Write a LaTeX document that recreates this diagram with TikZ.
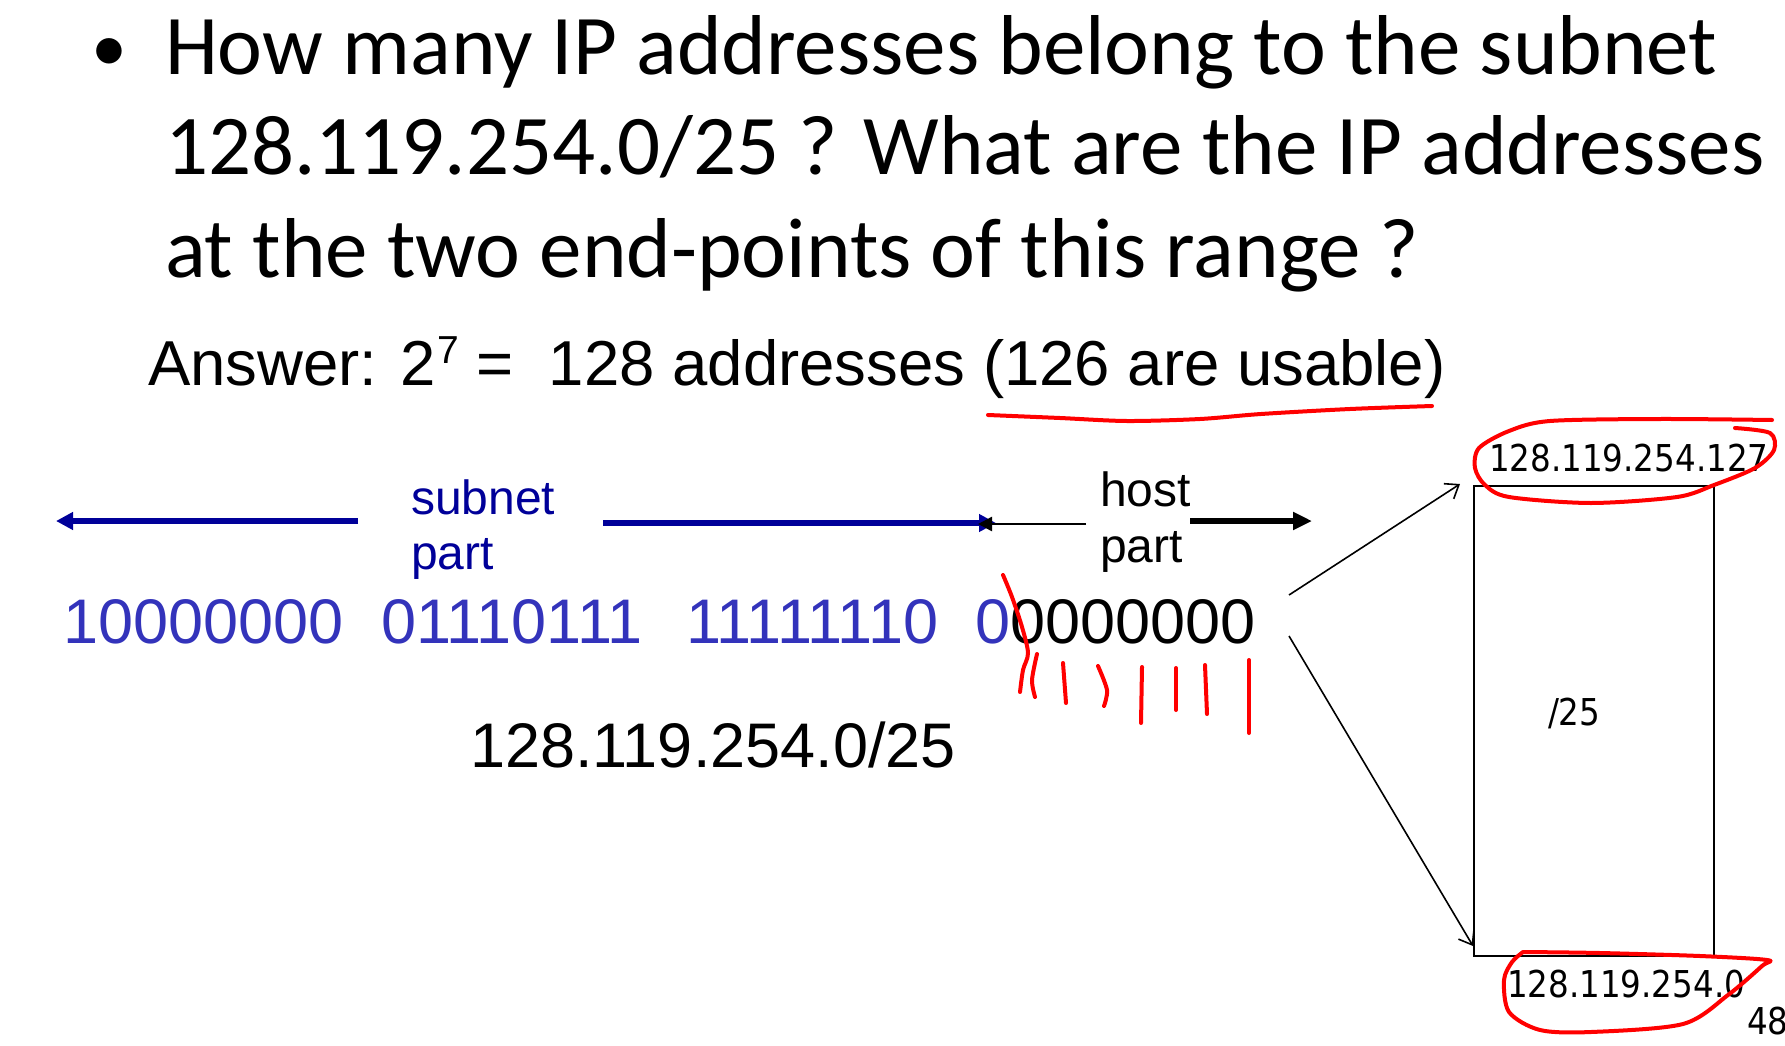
\documentclass[tikz,border=0pt]{standalone}
\usepackage{fontspec}
\setmainfont{Liberation Sans}
\newfontfamily\calibri{Carlito}
\newfontfamily\verd[FakeStretch=0.88]{DejaVu Sans}
\usetikzlibrary{arrows.meta}
\definecolor{navy}{RGB}{0,0,153}
\definecolor{digblue}{RGB}{51,51,187}
\definecolor{inkred}{RGB}{255,0,0}
\begin{document}
\begin{tikzpicture}[x=1pt,y=-1pt,inner sep=0pt,outer sep=0pt,
  titletext/.style={anchor=base west,font=\calibri\fontsize{85}{100}\selectfont},
  anstext/.style={anchor=base west,font=\fontsize{63.5}{76}\selectfont},
  bintext/.style={anchor=base west,font=\fontsize{63}{75}\selectfont},
  parttext/.style={anchor=base west,font=\fontsize{48}{56}\selectfont},
  iptext/.style={anchor=base west,font=\verd\fontsize{37}{42}\selectfont},
  bluearrow/.style={draw=navy,line width=5.5pt,-{Triangle[length=17pt,width=17pt]}},
  blackarrow/.style={draw=black,line width=5.5pt,-{Triangle[length=19pt,width=17pt]}},
  thinarrow/.style={draw=black,line width=2.4pt,-{Triangle[length=14pt,width=14pt]}},
  pointer/.style={draw=black,line width=1.6pt,-{Straight Barb[length=12pt,width=18pt]}},
  ink/.style={draw=inkred,line width=4pt,line cap=round,line join=round}]
\useasboundingbox (0,0) rectangle (1785,1046);
\fill[white] (0,0) rectangle (1785,1046);

% title
\node[titletext,font=\calibri\fontsize{72}{80}\selectfont] (bullet) at (91,72) {•};
\node[titletext] (t1) at (165,75) {How many IP addresses belong to the subnet};
\node[titletext] (t2) at (165,175) {128.119.254.0/25 ? What are the IP addresses};
\node[titletext] (t3) at (165,277) {at the two end-points of this range ?};

% answer
\node[anstext] (ans) at (148,385) {Answer: 2\hspace{1pt}\raisebox{22pt}{\fontsize{39}{40}\selectfont 7} =\ \ 128 addresses (126 are usable)};
\draw[ink] plot[smooth] coordinates {(988,415) (1060,418) (1127,421) (1200,419) (1261,414) (1350,409) (1432,406)};

% subnet / host part
\node[parttext,text=navy] (subnet) at (411,514) {subnet};
\node[parttext,text=navy] (spart) at (411,569) {part};
\node[parttext] (host) at (1100,506) {host};
\node[parttext] (hpart) at (1100,562) {part};

\coordinate (sl0) at (358,521);
\coordinate (sl1) at (56,521);
\coordinate (sr0) at (603,523);
\coordinate (sr1) at (996,523);
\coordinate (hl0) at (1086,524);
\coordinate (hl1) at (978,524);
\coordinate (hr0) at (1190,521);
\coordinate (hr1) at (1312,521);
\draw[bluearrow] (sl0) -- (sl1);
\draw[bluearrow] (sr0) -- (sr1);
\draw[thinarrow] (hl0) -- (hl1);
\draw[blackarrow] (hr0) -- (hr1);

% binary
\node[bintext,text=digblue] (b1) at (63,643) {10000000};
\node[bintext,text=digblue] (b2) at (381,643) {01110111};
\node[bintext,text=digblue] (b3) at (686,643) {11111110};
\node[bintext,text=digblue] (b4) at (975,643) {0};
\node[bintext] (b5) at (1010,643) {0000000};

\node[bintext] (cidr) at (470,767) {128.119.254.0/25};

% range box
\node[draw,line width=1.6pt,minimum width=240pt,minimum height=470pt] (range) at (1594,721) {};
\node[iptext] (slash) at (1548,725) {/25};
\node[iptext] (top) at (1489,471) {128.119.254.127};
\node[iptext] (bot) at (1507,997) {128.119.254.0};
\node[iptext] (pg) at (1747,1034) {48};

\coordinate (p0) at (1289,595);
\coordinate (p1) at (1460,484);
\coordinate (q0) at (1289,636);
\coordinate (q1) at (1473,946);
\draw[pointer] (p0) -- (p1);
\draw[pointer] (q0) -- (q1);

% red ink
\draw[ink] plot[smooth] coordinates {(1003,575) (1012,597) (1022,627) (1028,653) (1023,670) (1020,692)};
\draw[ink] plot[smooth] coordinates {(1037,654) (1032,680) (1035,697)};
\draw[ink] (1063,663) -- (1066,703);
\draw[ink] plot[smooth] coordinates {(1098,666) (1107,690) (1104,706)};
\draw[ink] (1142,667) -- (1141,723);
\draw[ink] (1176,668) -- (1176,710);
\draw[ink] (1205,665) -- (1207,714);
\draw[ink] (1249,660) -- (1249,733);

\draw[ink] plot[smooth] coordinates {(1772,420) (1660,419) (1550,421) (1509,431) (1479,448) (1475,468) (1485,485) (1509,497) (1591,503) (1677,497) (1714,485) (1755,468) (1774,450) (1770,433) (1735,428)};
\draw[ink] plot[smooth] coordinates {(1523,952) (1600,953) (1700,956) (1767,960) (1762,966) (1728,995) (1683,1024) (1591,1032) (1540,1030) (1509,1012) (1504,980) (1512,962) (1523,952)};
\end{tikzpicture}
\end{document}
